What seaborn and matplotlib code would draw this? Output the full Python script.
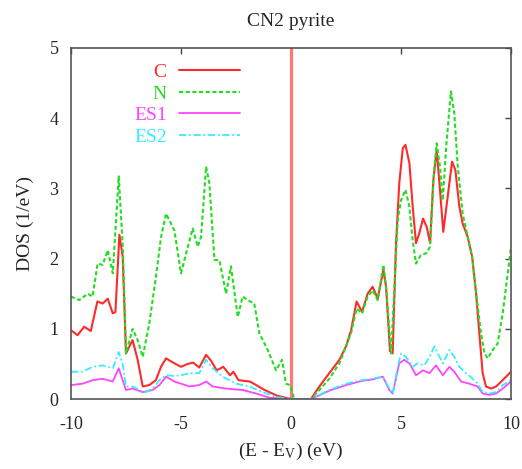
import matplotlib
matplotlib.use("Agg")
import matplotlib.pyplot as plt
import seaborn as sns

# C partial DOS
c_x = [-10, -9.7, -9.4, -9.1, -8.8, -8.56, -8.33, -8.1, -7.98, -7.8, -7.65, -7.5, -7.2, -6.97, -6.74,
       -6.44, -6.14, -5.91, -5.68, -5.3, -5.0, -4.7, -4.45, -4.17, -3.86, -3.64, -3.38, -3.08, -2.77,
       -2.62, -2.39, -1.86, -1.26, -0.65, 0, 0.5, 0.9, 1.29, 1.74, 2.2, 2.5, 2.73, 2.98, 3.23, 3.48,
       3.71, 3.94, 4.2, 4.32, 4.5, 4.62, 4.77, 4.92, 5.08, 5.2, 5.38, 5.53, 5.68, 5.83, 6.0, 6.17, 6.32,
       6.47, 6.62, 6.77, 6.92, 7.12, 7.32, 7.47, 7.65, 7.8, 8.03, 8.23, 8.41, 8.56, 8.71, 8.86, 9.09,
       9.32, 9.62, 10]
c_y = [0.98, 0.91, 1.03, 0.97, 1.39, 1.36, 1.43, 1.22, 1.24, 2.34, 2.03, 0.65, 0.84, 0.56, 0.18,
       0.2, 0.27, 0.46, 0.58, 0.51, 0.46, 0.5, 0.52, 0.45, 0.63, 0.55, 0.41, 0.46, 0.34,
       0.39, 0.27, 0.25, 0.14, 0.05, 0.0, 0.0, 0.0, 0.18, 0.37, 0.56, 0.75, 0.98, 1.39, 1.24, 1.5,
       1.6, 1.43, 1.84, 1.6, 0.68, 0.65, 2.2, 3.07, 3.57, 3.62, 3.36, 2.74, 2.22, 2.36, 2.57, 2.45, 2.22,
       3.12, 3.55, 2.98, 2.38, 2.88, 3.38, 3.26, 2.74, 2.5, 2.31, 2.03, 1.51, 0.93, 0.37, 0.18, 0.15,
       0.18, 0.27, 0.39]

# N partial DOS
n_x = [-10, -9.62, -9.24, -9.02, -8.79, -8.56, -8.33, -8.1, -7.83, -7.65, -7.5, -7.2, -6.97, -6.74,
       -6.44, -6.14, -5.91, -5.68, -5.3, -5.0, -4.77, -4.47, -4.24, -4.09, -3.86, -3.71, -3.48, -3.26,
       -2.95, -2.73, -2.42, -2.2, -1.97, -1.67, -1.44, -1.06, -0.68, -0.41, -0.23, -0.05, 0.15, 0.9,
       1.29, 1.74, 2.2, 2.73, 2.98, 3.23, 3.48, 3.71, 3.94, 4.2, 4.32, 4.55, 4.7, 4.85, 5.0, 5.2, 5.38,
       5.53, 5.68, 5.9, 6.17, 6.32, 6.47, 6.62, 6.77, 6.9, 7.05, 7.27, 7.42, 7.58, 7.8, 8.03, 8.23,
       8.41, 8.64, 8.79, 8.94, 9.17, 9.39, 9.62, 9.85, 10]
n_y = [1.46, 1.41, 1.5, 1.46, 1.93, 1.91, 2.12, 1.79, 3.17, 2.2, 0.65, 1.0, 0.84, 0.6,
       1.08, 1.74, 2.3, 2.64, 2.4, 1.79, 2.07, 2.43, 2.17, 2.31, 3.31, 3.07, 1.98, 1.98,
       1.5, 1.89, 1.17, 1.46, 1.41, 1.36, 0.94, 0.7, 0.41, 0.56, 0.22, 0.2, 0.0, 0.0,
       0.13, 0.29, 0.51, 0.94, 1.29, 1.22, 1.46, 1.55, 1.41, 1.91, 1.6, 0.65, 1.6, 2.55, 2.83, 2.98, 2.74,
       2.26, 1.93, 2.05, 2.08, 2.17, 3.12, 3.64, 3.31, 2.83, 3.59, 4.38, 4.07, 3.31, 2.64, 2.31, 2.03,
       1.51, 0.93, 0.65, 0.58, 0.7, 0.79, 1.22, 1.79, 2.17]

# ES1 partial DOS
es1_x = [-10, -9.47, -9.02, -8.56, -8.1, -7.83, -7.65, -7.5, -7.2, -6.74, -6.29, -5.98, -5.68, -5.3,
         -5.0, -4.62, -4.17, -3.86, -3.56, -2.95, -2.2, -1.59, -0.98, 0, 0.9, 1.74, 2.5, 3.23, 3.71,
         4.17, 4.47, 4.62, 4.92, 5.15, 5.4, 5.68, 6.0, 6.29, 6.59, 6.9, 7.2, 7.42, 7.73, 8.1, 8.48,
         8.71, 9.02, 9.32, 9.62, 10]
es1_y = [0.2, 0.22, 0.27, 0.29, 0.25, 0.44, 0.27, 0.13, 0.15, 0.1, 0.13, 0.2, 0.32, 0.25,
         0.22, 0.18, 0.2, 0.25, 0.18, 0.15, 0.13, 0.08, 0.02, 0.0, 0.0, 0.12, 0.2, 0.26, 0.28,
         0.32, 0.13, 0.08, 0.51, 0.56, 0.5, 0.34, 0.41, 0.37, 0.48, 0.34, 0.46, 0.39, 0.25, 0.22, 0.18,
         0.08, 0.06, 0.08, 0.15, 0.25]

# ES2 partial DOS
es2_x = [-10, -9.47, -9.02, -8.56, -8.1, -7.83, -7.65, -7.5, -7.2, -6.89, -6.59, -6.29, -5.98, -5.68,
         -5.3, -5.0, -4.62, -4.17, -3.86, -3.56, -3.11, -2.5, -1.89, -1.29, -0.68, 0, 0.9, 1.74, 2.5,
         3.23, 3.71, 4.17, 4.47, 4.62, 4.85, 5.0, 5.23, 5.53, 5.76, 6.06, 6.29, 6.52, 6.67, 6.9, 7.2,
         7.42, 7.65, 7.95, 8.26, 8.48, 8.71, 9.02, 9.32, 9.62, 10]
es2_y = [0.39, 0.39, 0.46, 0.48, 0.44, 0.67, 0.5, 0.18, 0.18, 0.13, 0.1, 0.15, 0.27, 0.34,
         0.33, 0.34, 0.37, 0.37, 0.56, 0.44, 0.32, 0.22, 0.18, 0.1, 0.03, 0.0, 0.0, 0.13, 0.22,
         0.27, 0.29, 0.32, 0.15, 0.08, 0.46, 0.65, 0.6, 0.46, 0.51, 0.48, 0.6, 0.75, 0.65, 0.51, 0.7,
         0.6, 0.46, 0.37, 0.29, 0.22, 0.1, 0.08, 0.1, 0.2, 0.27]

x_ticks = [-10, -5, 0, 5, 10]
y_ticks = [0, 1, 2, 3, 4, 5]

sns.set_style("white")
plt.rcParams["font.family"] = ["Liberation Serif", "DejaVu Serif"]
plt.rcParams["mathtext.fontset"] = "custom"
plt.rcParams["mathtext.rm"] = "Liberation Serif"
plt.rcParams["mathtext.default"] = "regular"
plt.rcParams["axes.unicode_minus"] = False

fig = plt.figure(figsize=(5.22, 4.69), dpi=100)
ax = fig.add_axes([0.136, 0.149, 0.843, 0.749])

# Fermi level marker
ax.axvline(0, color="#ff7878", lw=2.3, zorder=1)

sns.lineplot(x=c_x, y=c_y, ax=ax, color="#ff2a2a", lw=1.5, label="C")
sns.lineplot(x=n_x, y=n_y, ax=ax, color="#22dd22", lw=1.5, linestyle=(0, (2, 1.2)), label="N")
sns.lineplot(x=es1_x, y=es1_y, ax=ax, color="#ff44ff", lw=1.3, label="ES1")
sns.lineplot(x=es2_x, y=es2_y, ax=ax, color="#33eeff", lw=1.3, linestyle=(0, (4, 1.5, 1, 1.5)), label="ES2")

ax.set_xlim(-10, 10)
ax.set_ylim(0, 5)
ax.set_xticks(x_ticks)
ax.set_yticks(y_ticks)
ax.tick_params(direction="in", length=4, width=1, top=True, right=True, labelsize=13,
               color="#444444")
ax.tick_params(axis="x", pad=12)
ax.tick_params(axis="y", pad=9)
for s in ax.spines.values():
    s.set_color("#555555")
    s.set_linewidth(1.2)

ax.set_title("CN2 pyrite", fontsize=14, pad=16)
ax.set_xlabel("(E - E$_{V}$) (eV)", fontsize=14, labelpad=6)
ax.set_ylabel("DOS (1/eV)", fontsize=14, labelpad=11)

leg = ax.legend(loc="upper right", bbox_to_anchor=(0.393, 0.966), frameon=False, markerfirst=False,
                labelcolor="linecolor", handlelength=3.15, handletextpad=0.62, labelspacing=0.2,
                borderaxespad=0, borderpad=0.2, fontsize=14)

fig.savefig("out.png", dpi=100)
